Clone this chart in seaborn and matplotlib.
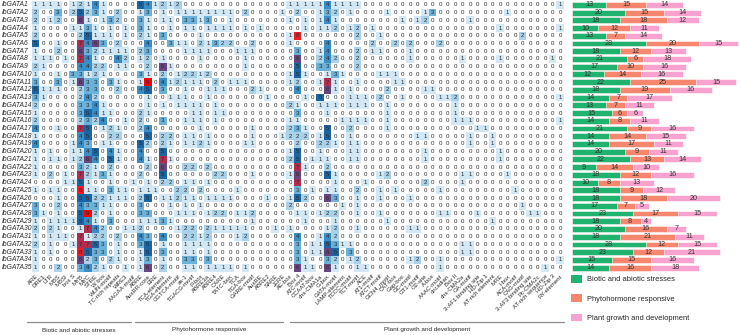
import pandas as pd
import matplotlib
matplotlib.use("Agg")
import matplotlib.pyplot as plt
import seaborn as sns
from matplotlib.colors import ListedColormap
from matplotlib.patches import Patch
from matplotlib.lines import Line2D
from matplotlib.transforms import blended_transform_factory

# gene names (rows)
genes = ["IbGATA1", "IbGATA2", "IbGATA3", "IbGATA4", "IbGATA5", "IbGATA6", "IbGATA7",
         "IbGATA8", "IbGATA9", "IbGATA10", "IbGATA11", "IbGATA12", "IbGATA13", "IbGATA14",
         "IbGATA15", "IbGATA16", "IbGATA17", "IbGATA18", "IbGATA19", "IbGATA20", "IbGATA21",
         "IbGATA22", "IbGATA23", "IbGATA24", "IbGATA25", "IbGATA26", "IbGATA27", "IbGATA28",
         "IbGATA29", "IbGATA30", "IbGATA31", "IbGATA32", "IbGATA33", "IbGATA34", "IbGATA35"]

# cis-elements (columns), three groups
biotic_elems = ["ARE", "DRE1", "LTR", "MBS", "MBSI", "box S", "MYB", "MYC", "STRE", "W box",
                "WUN-motif", "TC-rich repeats", "WRE3", "AAGAA-motif"]
hormone_elems = ["ABRE", "AuxRR-core", "ERE", "TCA-element", "TGA-element", "CGTCA-motif",
                 "as-1", "TGACG-motif", "P-box", "ABRE3a", "ABRE4", "CARE", "TATC-box", "TCA",
                 "TGA-box", "GARE-motif", "AuxRE", "ABRE2", "SARE", "JERE"]
growth_elems = ["AE-box", "Box 4", "ATC-motif", "CCAAT-box", "chs-CMA1a", "G-box", "GATA-motif",
                "LAMP-element", "TCCC-motif", "TCT-motif", "ACE", "AT1-motif", "ATCT-motif",
                "GCN4_motif", "CAT-box", "Gap-box", "GC-motif", "GT1-motif", "O2-site", "A-box",
                "AAAC-motif", "circadian", "Box II", "chs-CMA2a", "GA-motif", "3-AF1 binding site",
                "HD-Zip 1", "AT-rich element", "MRE", "I-box", "ACA-motif", "CAG-motif",
                "3-AF3 binding site", "Pc-CMA2c", "AT-rich sequence", "HD-Zip 3", "RY-element"]
group_names = ["Biotic and abiotic stresses", "Phytohormone responsive", "Plant growth and development"]

# element counts per gene, one digit per element (71 columns)
cis_counts = [
    "11110121410000541" "21200000000000000111" "11411110000000000000" "00000000000001",
    "20030252310200130" "10111111110200001020" "01320100001000013000" "00000010000000",
    "20120061013200310" "11033130010000000101" "01410000000010120000" "01000000000000",
    "10000113101010310" "01011011110101000001" "01120120100000000000" "00000100000001",
    "20000025111010210" "30000100000000000180" "00000020010000000000" "00000000200000",
    "50010074630200040" "03110213220020000100" "00400000200202000200" "00000000000000",
    "10020063211110230" "00011110001110000030" "01400020110001000000" "00000000000000",
    "11101074100420120" "10000100000100000060" "02420020000001000000" "10000100000010",
    "21000044220110020" "61000000000100000050" "03300020000000000000" "00000000000000",
    "10010331210000310" "20122120000000000151" "00131000011100000000" "00000000000000",
    "30030163303100190" "41211102011100000120" "01710010000110000000" "00000000000000",
    "51110023300200450" "30010011100021000040" "00610100002000011000" "00000000000000",
    "31000024200000010" "01110010000000100001" "05000111020010000112" "00000000000001",
    "20000033410000010" "10111101000000000210" "01110111001000000001" "00000000000000",
    "10000035411000210" "00001101100000000030" "00100000001000000001" "00000000000000",
    "20000023240010200" "30011101000000000110" "00001111001000000001" "11000000000001",
    "40010075012100240" "00000100000010000231" "00500200001000000000" "00110000000000",
    "10000045002200050" "22011010000010001222" "01500100000000110000" "01001000000000",
    "40000143011000520" "21011210000110000020" "02210110000000000000" "01001000000000",
    "10100114504100400" "50000000000000000150" "01000110000000010000" "00000100000000",
    "10110126405100410" "71000000000000000250" "11100110000000010000" "00000100000000",
    "10000032102000020" "60022020000000000071" "00200000000000000000" "00000000000000",
    "10201072131000200" "50000002200010000160" "00510000012000000000" "11000010000000",
    "00001151001001010" "22011010000000000070" "00010001000000020000" "10000000000000",
    "10110081103110111" "00220200001000000030" "10110020010100000100" "00000001000000",
    "00010055221110250" "11211011110000100152" "00630010010001000000" "00000000000000",
    "30020043311000300" "01010100000000000200" "00001010000000000000" "00000000100000",
    "31010059201000330" "00111012201120000011" "01220010010000000110" "00100000011000",
    "10111154103000111" "31000000000010000001" "00010000001000000000" "00001000000000",
    "20210017420011200" "00122021111100010100" "00120010000001100000" "00000000000000",
    "10111071220200430" "40022120001200000040" "01420000000000000000" "00000000000000",
    "20100177530100350" "10011110000000000030" "11531100000000000000" "11000000000000",
    "10100085330100150" "30011010000000000030" "11650300000000000000" "11000000000000",
    "10000062302100130" "10033030000000000031" "00320120000001200100" "00000000000001",
    "10020034210010160" "20011011110100000061" "10610011000000000100" "00000000000100",
]

# number of elements per category (bar chart)
biotic_total = [13, 20, 18, 10, 13, 28, 18, 21, 17, 12, 22, 18, 14, 13, 15, 14, 21, 14,
                14, 20, 22, 9, 18, 10, 18, 18, 17, 23, 18, 20, 18, 28, 23, 15, 14]
hormone_total = [15, 15, 18, 12, 7, 20, 12, 6, 10, 14, 25, 19, 7, 7, 6, 8, 9, 14,
                 17, 9, 13, 14, 12, 8, 9, 18, 7, 17, 8, 16, 21, 12, 12, 15, 16]
growth_total = [14, 14, 12, 11, 14, 15, 13, 18, 16, 16, 15, 16, 17, 11, 6, 11, 16, 15,
                11, 11, 14, 10, 16, 13, 12, 20, 5, 15, 4, 7, 11, 15, 21, 16, 18]

elements = biotic_elems + hormone_elems + growth_elems
counts = pd.DataFrame([[int(c) for c in row] for row in cis_counts], index=genes, columns=elements)

heat_colors = ["#ffffff", "#d2e8f4", "#a9d1e8", "#6cb1d9", "#3a8dc5", "#1c64a2",
               "#69457f", "#b02d50", "#ee1c25", "#ff0000"]
bar_colors = ["#1fb36f", "#f6866d", "#f8a2cf"]
txt = "#2b2b2b"

sns.set_style("white")
plt.rcParams["font.family"] = ["Liberation Sans", "DejaVu Sans"]

W, H = 740, 335
fig = plt.figure(figsize=(7.4, 3.35), dpi=100)

# heatmap
hm_left, hm_right, hm_top, hm_bottom = 31.7, 563.7, 1.0, 271.5
ax = fig.add_axes([hm_left / W, 1 - hm_bottom / H, (hm_right - hm_left) / W, (hm_bottom - hm_top) / H])
sns.heatmap(counts, ax=ax, cmap=ListedColormap(heat_colors), vmin=-0.5, vmax=9.5,
            annot=True, fmt="d", cbar=False, linewidths=0,
            annot_kws={"fontsize": 4.4, "color": txt},
            xticklabels=True, yticklabels=True)
ax.set_xlabel("")
ax.set_ylabel("")
ax.set_yticklabels(genes, fontstyle="italic", fontsize=4.9, ha="left", color=txt)
ax.tick_params(axis="y", length=0, pad=(hm_left - 2) * 72 / 100)
ax.set_xticklabels(elements, rotation=45, ha="right", rotation_mode="anchor", fontsize=4.3, color=txt)
ax.tick_params(axis="x", length=0, pad=1.5)

# group lines and labels under the heatmap
trans = blended_transform_factory(ax.transData, fig.transFigure)
line_spans = [(-0.6, 13.3), (13.8, 33.6), (34.5, 71.0)]
for name, (x0, x1) in zip(group_names, line_spans):
    fig.add_artist(Line2D([x0, x1], [1 - 322 / H] * 2, transform=trans, color="#8c8c8c", lw=0.9))
    fig.text((x0 + x1) / 2, 1 - 330 / H, name, transform=trans, ha="center", va="center",
             fontsize=4.6, color=txt)

# stacked bars
axb = fig.add_axes([572 / W, 1 - hm_bottom / H, (W - 572) / W, (hm_bottom - hm_top) / H])
bars = pd.DataFrame({"gene": genes, "biotic": biotic_total, "hormone": hormone_total,
                     "growth": growth_total})
bars["b_h"] = bars.biotic + bars.hormone
bars["all"] = bars.b_h + bars.growth
for col, colr in [("all", bar_colors[2]), ("b_h", bar_colors[1]), ("biotic", bar_colors[0])]:
    sns.barplot(data=bars, x=col, y="gene", order=genes, color=colr, orient="h", width=0.76,
                edgecolor="white", linewidth=0.4, saturation=1, ax=axb)
for i, r in bars.iterrows():
    for x, v in [(r.biotic / 2, r.biotic), (r.biotic + r.hormone / 2, r.hormone),
                 (r.b_h + r.growth / 2, r.growth)]:
        axb.text(x, i, str(v), ha="center", va="center", fontsize=5.2, color="#333333")
axb.set_xlim(0, 63.6)
axb.set_ylim(len(genes) - 0.5, -0.5)
axb.axis("off")

handles = [Patch(facecolor=c, edgecolor="none") for c in bar_colors]
fig.legend(handles, group_names, loc="upper left", bbox_to_anchor=(571 / W, 1 - 275 / H),
           frameon=False, fontsize=5.4, handlelength=1.5, handleheight=1.2,
           labelspacing=1.45, handletextpad=0.6, borderaxespad=0, borderpad=0)

fig.savefig("out.png", dpi=100)
